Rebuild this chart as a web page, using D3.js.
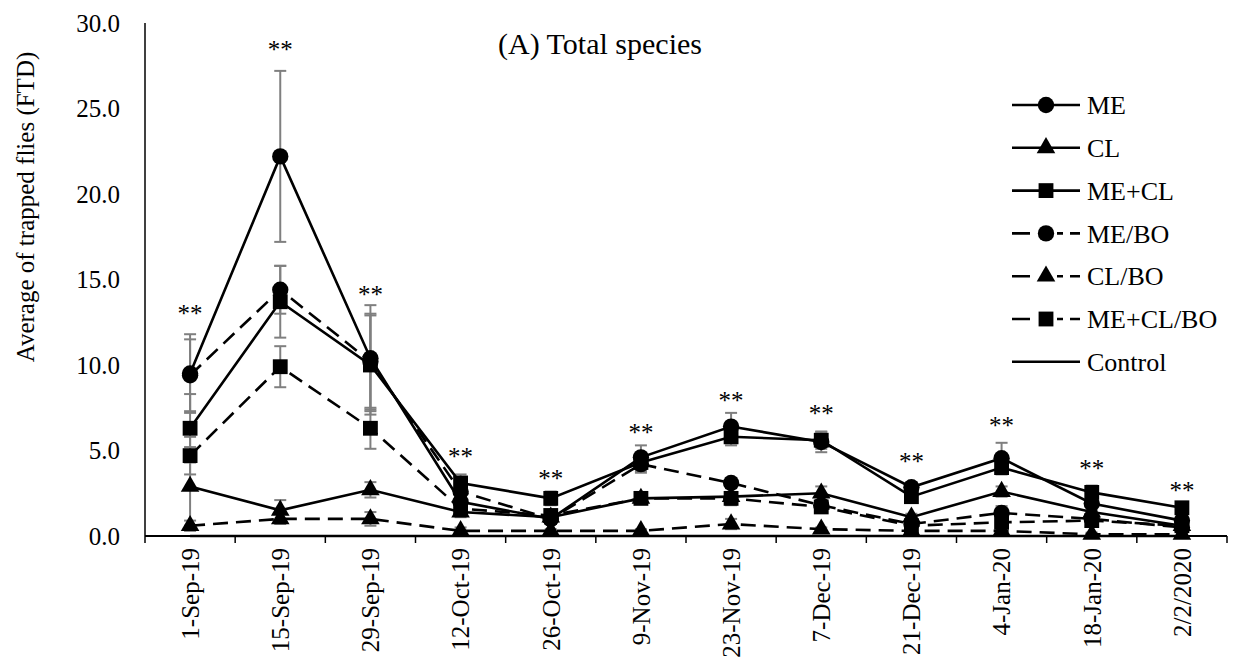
<!DOCTYPE html>
<html>
<head>
<meta charset="utf-8">
<script src="https://cdn.jsdelivr.net/npm/d3@7"></script>
<style>
  body { margin: 0; background: #fff; }
  svg { display: block; font-family: "Liberation Serif", "Times New Roman", serif; }
</style>
</head>
<body>
<script>
// dates on the x axis
const dates = ['1-Sep-19', '15-Sep-19', '29-Sep-19', '12-Oct-19', '26-Oct-19', '9-Nov-19',
  '23-Nov-19', '7-Dec-19', '21-Dec-19', '4-Jan-20', '18-Jan-20', '2/2/2020'];

// mean FTD per treatment
const meValues      = [9.5, 22.2, 10.4, 2.0, 1.0, 4.6, 6.4, 5.5, 2.85, 4.55, 1.9, 0.9];
const clValues      = [2.9, 1.5, 2.7, 1.4, 1.1, 2.2, 2.3, 2.5, 1.1, 2.6, 1.4, 0.6];
const meclValues    = [6.3, 13.7, 10.0, 3.1, 2.2, 4.3, 5.8, 5.6, 2.3, 4.0, 2.55, 1.65];
const meboValues    = [9.4, 14.4, 10.2, 2.6, 1.0, 4.2, 3.1, 1.8, 0.7, 1.35, 1.0, 0.5];
const clboValues    = [0.6, 1.0, 1.0, 0.3, 0.3, 0.3, 0.7, 0.4, 0.3, 0.3, 0.1, 0.1];
const meclboValues  = [4.7, 9.9, 6.3, 1.6, 1.2, 2.2, 2.2, 1.7, 0.6, 0.8, 0.9, 0.6];
const controlValues = [0, 0, 0, 0, 0, 0, 0, 0, 0, 0, 0, 0];

// standard errors
const meErr     = [2.3, 5.0, 3.1, 0.5, 0.3, 0.7, 0.8, 0.6, 0.3, 0.9, 0.4, 0.2];
const clErr     = [2.3, 0.6, 0.45, 0.3, 0.3, 0.3, 0.5, 0.4, 0.2, 0.3, 0.3, 0.2];
const meclErr   = [2.0, 2.1, 2.9, 0.5, 0.4, 0.5, 0.5, 0.5, 0.3, 0.4, 0.4, 0.2];
const meboErr   = [2.1, 1.4, 2.8, 0.5, 0.3, 0.5, 0.3, 0.3, 0.2, 0.4, 0.3, 0.2];
const clboErr   = [0.3, 0.3, 0.4, 0.2, 0.1, 0.1, 0.3, 0.1, 0.1, 0.1, 0.1, 0.1];
const meclboErr = [1.1, 1.2, 1.2, 0.4, 0.3, 0.3, 0.3, 0.3, 0.2, 0.3, 0.3, 0.2];

// height (in FTD units) where the "**" marks sit
const starLevels = [13.3, 28.7, 14.4, 4.9, 3.6, 6.3, 8.2, 7.4, 4.6, 6.7, 4.2, 2.9];

const yTicks = [0, 5, 10, 15, 20, 25, 30];

const series = [
  { name: 'ME',       values: meValues,      err: meErr,     marker: 'circle',   dashed: false },
  { name: 'CL',       values: clValues,      err: clErr,     marker: 'triangle', dashed: false },
  { name: 'ME+CL',    values: meclValues,    err: meclErr,   marker: 'square',   dashed: false },
  { name: 'ME/BO',    values: meboValues,    err: meboErr,   marker: 'circle',   dashed: true },
  { name: 'CL/BO',    values: clboValues,    err: clboErr,   marker: 'triangle', dashed: true },
  { name: 'ME+CL/BO', values: meclboValues,  err: meclboErr, marker: 'square',   dashed: true },
  { name: 'Control',  values: controlValues, err: null,      marker: null,       dashed: false }
];

const width = 1237, height = 668;
const margin = { top: 23, right: 10, bottom: 132, left: 145 };
const dash = '15,8';

const svg = d3.select('body').append('svg')
  .attr('width', width)
  .attr('height', height);

const x = d3.scaleBand()
  .domain(dates)
  .range([margin.left, width - margin.right]);

const y = d3.scaleLinear()
  .domain([0, 30])
  .range([height - margin.bottom, margin.top]);

const cx = d => x(d) + x.bandwidth() / 2;

const symbols = {
  circle: d3.symbol().type(d3.symbolCircle).size(210),
  triangle: d3.symbol().type(d3.symbolTriangle).size(150),
  square: d3.symbol().type(d3.symbolSquare).size(220)
};

// y axis (no ticks, just labels)
svg.append('line')
  .attr('x1', margin.left).attr('x2', margin.left)
  .attr('y1', y(30)).attr('y2', y(0))
  .attr('stroke', '#000').attr('stroke-width', 1.5);

svg.selectAll('text.ytick')
  .data(yTicks)
  .join('text')
  .attr('class', 'ytick')
  .attr('x', margin.left - 25)
  .attr('y', d => y(d))
  .attr('dy', '0.35em')
  .attr('text-anchor', 'end')
  .style('font-size', '25px')
  .text(d => d.toFixed(1));

svg.append('text')
  .attr('transform', `translate(34,207) rotate(-90)`)
  .attr('text-anchor', 'middle')
  .style('font-size', '25px')
  .text('Average of trapped flies (FTD)');

// x axis with ticks between categories
const xAxisG = svg.append('g');
xAxisG.append('line')
  .attr('x1', margin.left).attr('x2', width - margin.right)
  .attr('y1', y(0)).attr('y2', y(0))
  .attr('stroke', '#000').attr('stroke-width', 2);

xAxisG.selectAll('line.tick')
  .data(dates.concat(['end']))
  .join('line')
  .attr('class', 'tick')
  .attr('x1', (d, i) => i < dates.length ? x(d) : x(dates[dates.length - 1]) + x.bandwidth())
  .attr('x2', (d, i) => i < dates.length ? x(d) : x(dates[dates.length - 1]) + x.bandwidth())
  .attr('y1', y(0)).attr('y2', y(0) + 7)
  .attr('stroke', '#000').attr('stroke-width', 1.5);

xAxisG.selectAll('text.xlab')
  .data(dates)
  .join('text')
  .attr('class', 'xlab')
  .attr('transform', d => `translate(${cx(d)},${y(0) + 12}) rotate(-90)`)
  .attr('dy', '0.35em')
  .attr('text-anchor', 'end')
  .style('font-size', '25px')
  .text(d => d);

// error bars
const errG = svg.append('g');
series.filter(s => s.err).forEach(s => {
  const g = errG.append('g');
  const pts = dates.map((d, i) => ({ d, v: s.values[i], e: s.err[i] }));
  g.selectAll('line.stem').data(pts).join('line')
    .attr('x1', p => cx(p.d)).attr('x2', p => cx(p.d))
    .attr('y1', p => y(p.v + p.e)).attr('y2', p => y(Math.max(0, p.v - p.e)))
    .attr('stroke', '#7f7f7f').attr('stroke-width', 2);
  ['top', 'bottom'].forEach(side => {
    g.selectAll('line.cap-' + side).data(pts).join('line')
      .attr('x1', p => cx(p.d) - 6).attr('x2', p => cx(p.d) + 6)
      .attr('y1', p => y(side === 'top' ? p.v + p.e : Math.max(0, p.v - p.e)))
      .attr('y2', p => y(side === 'top' ? p.v + p.e : Math.max(0, p.v - p.e)))
      .attr('stroke', '#7f7f7f').attr('stroke-width', 2);
  });
});

// lines
const line = d3.line()
  .x((v, i) => cx(dates[i]))
  .y(v => y(v));

svg.append('g').selectAll('path')
  .data(series)
  .join('path')
  .attr('d', s => line(s.values))
  .attr('fill', 'none')
  .attr('stroke', '#000')
  .attr('stroke-width', 2.6)
  .attr('stroke-dasharray', s => s.dashed ? dash : null);

// markers
series.filter(s => s.marker).forEach(s => {
  svg.append('g').selectAll('path')
    .data(s.values)
    .join('path')
    .attr('transform', (v, i) => `translate(${cx(dates[i])},${y(v)})`)
    .attr('d', symbols[s.marker]())
    .attr('fill', '#000');
});

// significance marks
svg.selectAll('text.star')
  .data(starLevels)
  .join('text')
  .attr('class', 'star')
  .attr('x', (v, i) => cx(dates[i]))
  .attr('y', v => y(v) + 13)
  .attr('text-anchor', 'middle')
  .attr('fill', '#000')
  .style('font-size', '25px')
  .text('**');

// title
svg.append('text')
  .attr('x', 600)
  .attr('y', 54)
  .attr('text-anchor', 'middle')
  .style('font-size', '30px')
  .text('(A) Total species');

// legend
const legend = svg.append('g');
const legRow = legend.selectAll('g')
  .data(series)
  .join('g')
  .attr('transform', (s, i) => `translate(1012,${105 + i * 42.8})`);

legRow.append('line')
  .attr('x1', 0).attr('x2', 68)
  .attr('y1', 0).attr('y2', 0)
  .attr('stroke', '#000')
  .attr('stroke-width', 2.6)
  .attr('stroke-dasharray', s => s.dashed ? '18,27,6,7,10,0' : null);

legRow.filter(s => s.marker).append('path')
  .attr('transform', 'translate(34,0)')
  .attr('d', s => symbols[s.marker]())
  .attr('fill', '#000');

legRow.append('text')
  .attr('x', 75)
  .attr('dy', '0.35em')
  .style('font-size', '26px')
  .text(s => s.name);
</script>
</body>
</html>
